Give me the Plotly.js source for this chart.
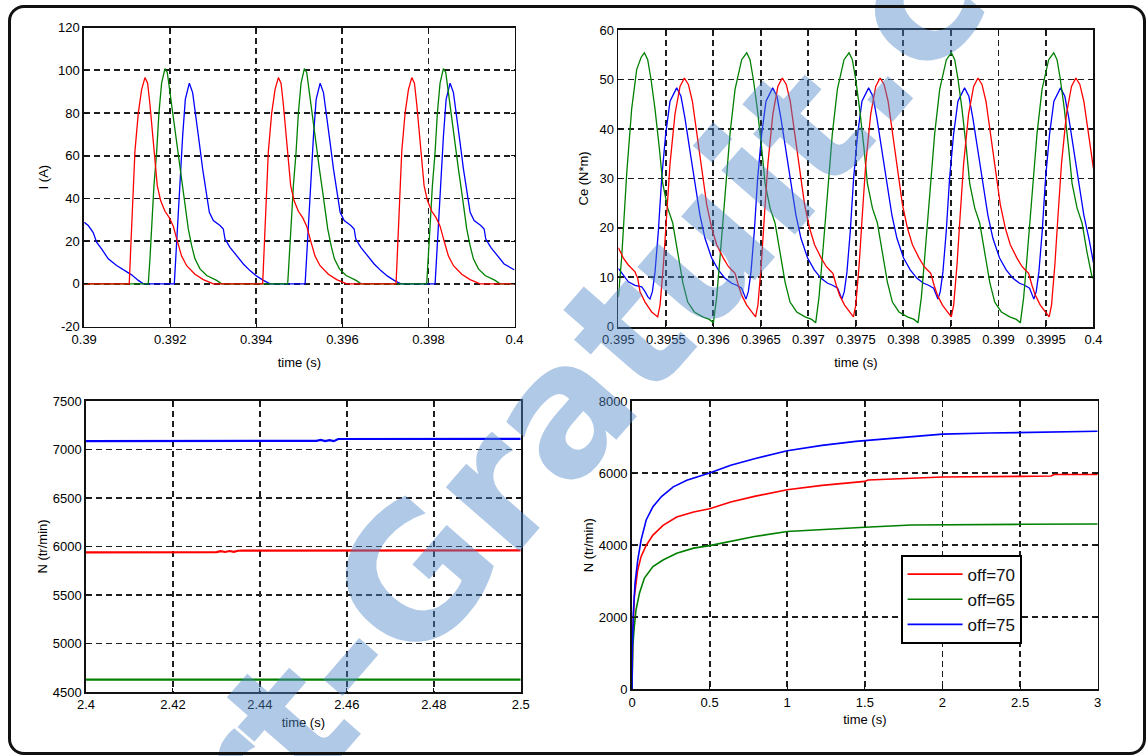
<!DOCTYPE html>
<html><head><meta charset="utf-8">
<script src="https://cdn.plot.ly/plotly-3.0.1.min.js"></script>
<style>
html,body{margin:0;padding:0;background:#fff;}
#wrap{position:relative;width:1147px;height:756px;overflow:hidden;}
#chart{position:absolute;left:0;top:0;width:1147px;height:756px;}
#frame{position:absolute;left:8px;top:5px;width:1138px;height:750px;border:3px solid #111;border-radius:16px;box-sizing:border-box;pointer-events:none;}
</style></head>
<body><div id="wrap"><div id="chart"></div><div id="frame"></div></div>
<script>
// ---------- Top-left: phase current I (A) vs time (s) ----------
const tlRedT = [0.39,0.391047,0.391078,0.391125,0.391179,0.391257,0.391334,0.391412,0.391474,0.391528,0.391590,0.391644,0.391698,0.391776,0.391877,0.391977,0.392070,0.392164,0.392264,0.392381,0.392574,0.392768,0.393001,
0.394147,0.394178,0.394225,0.394279,0.394357,0.394434,0.394512,0.394574,0.394628,0.394690,0.394744,0.394798,0.394876,0.394977,0.395077,0.395170,0.395264,0.395364,0.395481,0.395674,0.395868,0.396101,
0.397247,0.397278,0.397325,0.397379,0.397457,0.397534,0.397612,0.397674,0.397728,0.397790,0.397844,0.397898,0.397976,0.398077,0.398177,0.398270,0.398364,0.398464,0.398581,0.398774,0.398968,0.399201,0.4];
const tlRedI = [0,0,15,40,62,80,91,96.6,94,84,70,57,46,39,34,31,27,20,13,8.5,4.5,2,0,
0,15,40,62,80,91,96.6,94,84,70,57,46,39,34,31,27,20,13,8.5,4.5,2,0,
0,15,40,62,80,91,96.6,94,84,70,57,46,39,34,31,27,20,13,8.5,4.5,2,0,0];
const tlGreenT = [0.39,0.391489,0.391528,0.391567,0.391621,0.391683,0.391737,0.391799,0.391877,0.391931,0.391993,0.392070,0.392148,0.392226,0.392303,0.392365,0.392419,0.392497,0.392574,0.392691,0.392846,0.393078,0.393195,
0.394729,0.394768,0.394807,0.394861,0.394923,0.394977,0.395039,0.395117,0.395171,0.395233,0.395310,0.395388,0.395466,0.395543,0.395605,0.395659,0.395737,0.395814,0.395931,0.396086,0.396318,0.396435,
0.397959,0.397998,0.398037,0.398091,0.398153,0.398207,0.398269,0.398347,0.398401,0.398463,0.398540,0.398618,0.398696,0.398773,0.398835,0.398889,0.398967,0.399044,0.399161,0.399316,0.399548,0.399665,0.4];
const tlGreenI = [0,0,11.7,27,46,61.5,80,94,100.8,99,89.6,77,64.6,53.7,42.8,33.5,25.7,17.9,11.7,7,3.9,1.6,0,
0,11.7,27,46,61.5,80,94,100.8,99,89.6,77,64.6,53.7,42.8,33.5,25.7,17.9,11.7,7,3.9,1.6,0,
0,11.7,27,46,61.5,80,94,100.8,99,89.6,77,64.6,53.7,42.8,33.5,25.7,17.9,11.7,7,3.9,1.6,0,0];
const tlBlueT = [0.39,0.390094,0.390210,0.390288,0.390404,0.390559,0.390753,0.390947,0.391102,0.391257,0.391373,
0.392094,0.392125,0.392164,0.392226,0.392288,0.392350,0.392443,0.392520,0.392598,0.392675,0.392753,0.392830,0.392908,0.393001,0.393156,0.393233,0.393272,0.393388,0.393543,0.393698,0.393853,0.394009,0.394163,0.394319,
0.395134,0.395165,0.395204,0.395266,0.395328,0.395390,0.395483,0.395560,0.395638,0.395715,0.395793,0.395870,0.395948,0.396041,0.396196,0.396273,0.396312,0.396428,0.396583,0.396738,0.396893,0.397049,0.397203,0.397359,
0.398154,0.398185,0.398224,0.398286,0.398348,0.398410,0.398503,0.398580,0.398658,0.398735,0.398813,0.398890,0.398968,0.399061,0.399216,0.399293,0.399332,0.399448,0.399603,0.399758,0.4];
const tlBlueI = [28.8,27.3,24,19.5,16.4,11.7,8.6,6.2,4.2,1.6,0,
0,11.7,27,50.6,69.3,86.4,94,89.6,78.7,66,53.7,42.8,33.5,29.6,27.3,25.7,21,17.1,13.2,9.3,6.2,3.6,1.6,0,
0,11.7,27,50.6,69.3,86.4,94,89.6,78.7,66,53.7,42.8,33.5,29.6,27.3,25.7,21,17.1,13.2,9.3,6.2,3.6,1.6,0,
0,11.7,27,50.6,69.3,86.4,94,89.6,78.7,66,53.7,42.8,33.5,29.6,27.3,25.7,21,17.1,13.2,9.3,6.5];
const tlTickX = [0.39,0.392,0.394,0.396,0.398,0.4];
const tlTickXText = ['0.39','0.392','0.394','0.396','0.398','0.4'];
const tlTickY = [-20,0,20,40,60,80,100,120];
const tlTickYText = ['-20','0','20','40','60','80','100','120'];

// ---------- Top-right: torque Ce (N*m) vs time (s) ----------
const trGreenT = [0.395,0.395035,0.395088,0.395140,0.395193,0.395240,0.395274,
0.395309,0.395344,0.395386,0.395432,0.395467,0.395520,0.395572,0.395625,0.395678,0.395730,0.395800,0.395888,0.395958,0.396000,
0.396035,0.396070,0.396123,0.396175,0.396228,0.396298,0.396351,
0.396386,0.396421,0.396463,0.396509,0.396544,0.396597,0.396649,0.396702,0.396755,0.396807,0.396877,0.396965,0.397035,0.397077,
0.397112,0.397147,0.397200,0.397252,0.397305,0.397375,0.397428,
0.397463,0.397498,0.397540,0.397586,0.397621,0.397674,0.397726,0.397779,0.397832,0.397884,0.397954,0.398042,0.398112,0.398154,
0.398189,0.398224,0.398277,0.398329,0.398382,0.398452,0.398505,
0.398540,0.398575,0.398617,0.398663,0.398698,0.398751,0.398803,0.398856,0.398909,0.398961,0.399031,0.399119,0.399189,0.399231,
0.399266,0.399301,0.399354,0.399406,0.399459,0.399529,0.399582,
0.399617,0.399652,0.399694,0.399740,0.399775,0.399828,0.399880,0.399933,0.399986,0.4];
const trGreenCe = [6,14,31,44,52,54.5,55.4,
54,50,44,36,29,24,21,15,9,5,3,2,1.5,0.8,
6,14,27,39,48,54,55.4,
54,50,44,36,29,24,21,15,9,5,3,2,1.5,0.8,
6,14,27,39,48,54,55.4,
54,50,44,36,29,24,21,15,9,5,3,2,1.5,0.8,
6,14,27,39,48,54,55.4,
54,50,44,36,29,24,21,15,9,5,3,2,1.5,0.8,
6,14,27,39,48,54,55.4,
54,50,44,36,29,24,21,15,10,9.8];
const trRedT = [0.395,0.395053,0.395105,0.395175,0.395204,0.395228,0.395281,0.395351,
0.395414,0.395439,0.395474,0.395509,0.395544,0.395596,0.395649,0.395695,0.395737,0.395779,0.395825,0.395877,0.395930,0.395982,0.396035,0.396105,0.396158,0.396193,0.396228,0.396263,0.396298,0.396351,0.396404,
0.396444,0.396469,0.396504,0.396539,0.396574,0.396626,0.396679,0.396725,0.396767,0.396809,0.396855,0.396907,0.396960,0.397012,0.397065,0.397135,0.397188,0.397223,0.397258,0.397293,0.397328,0.397381,0.397434,
0.397474,0.397499,0.397534,0.397569,0.397604,0.397656,0.397709,0.397755,0.397797,0.397839,0.397885,0.397937,0.397990,0.398042,0.398095,0.398165,0.398218,0.398253,0.398288,0.398323,0.398358,0.398411,0.398464,
0.398504,0.398529,0.398564,0.398599,0.398634,0.398686,0.398739,0.398785,0.398827,0.398869,0.398915,0.398967,0.399020,0.399072,0.399125,0.399195,0.399248,0.399283,0.399318,0.399353,0.399388,0.399441,0.399494,
0.399534,0.399559,0.399594,0.399629,0.399664,0.399716,0.399769,0.399815,0.399857,0.399899,0.399945,0.4];
const trRedCe = [16,13.9,12.5,11.1,9.8,7.1,5,3,
2,4.4,12.5,23,33,43,48.6,50.3,49,45.6,39,31.4,24.7,20,16.6,13.9,12.2,11.5,10.8,8.4,6.4,4.4,3,
2,4.4,12.5,23,33,43,48.6,50.3,49,45.6,39,31.4,24.7,20,16.6,13.9,12.2,11.5,10.8,8.4,6.4,4.4,3,
2,4.4,12.5,23,33,43,48.6,50.3,49,45.6,39,31.4,24.7,20,16.6,13.9,12.2,11.5,10.8,8.4,6.4,4.4,3,
2,4.4,12.5,23,33,43,48.6,50.3,49,45.6,39,31.4,24.7,20,16.6,13.9,12.2,11.5,10.8,8.4,6.4,4.4,3,
2,4.4,12.5,23,33,43,48.6,50.3,49,45.6,39,32];
const trBlueT = [0.395,0.395053,0.395105,0.395175,0.395246,0.395281,0.395309,
0.395333,0.395358,0.395386,0.395421,0.395456,0.395498,0.395544,0.395614,0.395659,0.395701,0.395754,0.395807,0.395859,0.395912,0.395982,0.396052,0.396123,0.396193,0.396245,0.396298,0.396326,
0.396343,0.396368,0.396396,0.396431,0.396466,0.396508,0.396554,0.396624,0.396669,0.396711,0.396764,0.396817,0.396869,0.396922,0.396992,0.397062,0.397133,0.397203,0.397255,0.397308,0.397336,
0.397353,0.397378,0.397406,0.397441,0.397476,0.397518,0.397564,0.397634,0.397679,0.397721,0.397774,0.397827,0.397879,0.397932,0.398002,0.398072,0.398143,0.398213,0.398265,0.398318,0.398346,
0.398363,0.398388,0.398416,0.398451,0.398486,0.398528,0.398574,0.398644,0.398689,0.398731,0.398784,0.398837,0.398889,0.398942,0.399012,0.399082,0.399153,0.399223,0.399275,0.399328,0.399356,
0.399373,0.399398,0.399426,0.399461,0.399496,0.399538,0.399584,0.399654,0.399699,0.399741,0.399794,0.399847,0.399899,0.399952,0.4];
const trBlueCe = [11.8,10.5,9.1,8.4,8.1,7.1,6.1,
5.6,7.1,11.1,19.3,30,38.9,45.6,48.3,46.6,42.2,35.5,28.7,22.6,17.9,13.9,11.5,9.8,8.8,8.4,7.8,6.4,
5.6,7.1,11.1,19.3,30,38.9,45.6,48.3,46.6,42.2,35.5,28.7,22.6,17.9,13.9,11.5,9.8,8.8,8.4,7.8,6.4,
5.6,7.1,11.1,19.3,30,38.9,45.6,48.3,46.6,42.2,35.5,28.7,22.6,17.9,13.9,11.5,9.8,8.8,8.4,7.8,6.4,
5.6,7.1,11.1,19.3,30,38.9,45.6,48.3,46.6,42.2,35.5,28.7,22.6,17.9,13.9,11.5,9.8,8.8,8.4,7.8,6.4,
5.6,7.1,11.1,19.3,30,38.9,45.6,48.3,46.6,42.2,35.5,28.7,22.6,17.9,13];
const trTickX = [0.395,0.3955,0.396,0.3965,0.397,0.3975,0.398,0.3985,0.399,0.3995,0.4];
const trTickXText = ['0.395','0.3955','0.396','0.3965','0.397','0.3975','0.398','0.3985','0.399','0.3995','0.4'];
const trTickY = [0,10,20,30,40,50,60];
const trTickYText = ['0','10','20','30','40','50','60'];

// ---------- Bottom-left: speed N (tr/min), steady state ----------
const blRedT = [2.4,2.430,2.431,2.432,2.433,2.434,2.435,2.436,2.5];
const blRedN = [5940,5941,5951,5943,5953,5945,5956,5958,5960];
const blGreenT = [2.4,2.5];
const blGreenN = [4628,4628];
const blBlueT = [2.4,2.453,2.454,2.455,2.456,2.457,2.458,2.5];
const blBlueN = [7087,7088,7098,7086,7097,7086,7108,7110];
const blTickX = [2.4,2.42,2.44,2.46,2.48,2.5];
const blTickXText = ['2.4','2.42','2.44','2.46','2.48','2.5'];
const blTickY = [4500,5000,5500,6000,6500,7000,7500];
const blTickYText = ['4500','5000','5500','6000','6500','7000','7500'];

// ---------- Bottom-right: speed N (tr/min), start-up ----------
const brRedT = [0,0.005,0.015,0.026,0.037,0.059,0.092,0.135,0.2,0.288,0.397,0.5,0.636,0.789,1.0,1.224,1.44,1.5,1.52,1.7,2.0,2.5,2.7,2.72,3.0];
const brRedN = [0,1500,2570,2940,3320,3690,4000,4280,4550,4780,4920,5010,5200,5355,5540,5660,5750,5770,5810,5840,5890,5910,5920,5960,5960];
const brGreenT = [0,0.005,0.015,0.026,0.048,0.08,0.135,0.2,0.288,0.397,0.5,0.636,0.789,1.0,1.224,1.44,1.5,1.8,2.0,2.5,3.0];
const brGreenN = [0,1200,1750,2210,2670,3090,3410,3590,3780,3920,3990,4100,4240,4380,4440,4490,4500,4560,4570,4580,4590];
const brBlueT = [0,0.002,0.0087,0.0196,0.037,0.0588,0.0915,0.135,0.19,0.266,0.353,0.5,0.636,0.789,1.0,1.224,1.442,1.7,2.0,2.3,2.5,2.72,3.0];
const brBlueN = [0,1100,2120,2950,3590,4150,4700,5070,5350,5620,5800,6000,6220,6400,6620,6770,6880,6980,7080,7110,7120,7150,7160];
const brTickX = [0,0.5,1,1.5,2,2.5,3];
const brTickXText = ['0','0.5','1','1.5','2','2.5','3'];
const brTickY = [0,2000,4000,6000,8000];
const brTickYText = ['0','2000','4000','6000','8000'];

const seriesNames = ['off=70','off=65','off=75'];
const seriesColors = ['#ff0000','#008000','#0000ff'];

// ---------- build ----------
const FONT = 'Liberation Sans, Arial, sans-serif';
function ln(x, y, xa, ya, idx, w, show){
  return {x:x, y:y, xaxis:xa, yaxis:ya, type:'scatter', mode:'lines',
    name:seriesNames[idx], legendgroup:'g'+idx, showlegend:!!show,
    line:{color:seriesColors[idx], width:w}, hoverinfo:'skip'};
}
const traces = [
  ln(tlBlueT, tlBlueI, 'x','y',2,1.3), ln(tlGreenT, tlGreenI,'x','y',1,1.3), ln(tlRedT, tlRedI,'x','y',0,1.3),
  ln(trBlueT, trBlueCe,'x2','y2',2,1.3), ln(trGreenT, trGreenCe,'x2','y2',1,1.3), ln(trRedT, trRedCe,'x2','y2',0,1.3),
  ln(blBlueT, blBlueN,'x3','y3',2,2.2), ln(blGreenT, blGreenN,'x3','y3',1,2.2), ln(blRedT, blRedN,'x3','y3',0,2.2),
  ln(brRedT, brRedN,'x4','y4',0,1.6,true), ln(brGreenT, brGreenN,'x4','y4',1,1.6,true), ln(brBlueT, brBlueN,'x4','y4',2,1.6,true)
];

function ax(extra){
  return Object.assign({
    showline:true, linecolor:'#111', linewidth:1.8, mirror:'ticks',
    ticks:'inside', ticklen:4, tickcolor:'#111', tickwidth:1,
    showgrid:true, gridcolor:'#1e1e1e', gridwidth:1.8, griddash:'6px,4px',
    zeroline:false, automargin:false, fixedrange:true, tickmode:'array',
    tickfont:{family:FONT, size:13, color:'#000'}
  }, extra);
}
function ttl(t, s){ return {text:t, font:{family:FONT, size:13, color:'#000'}, standoff:s}; }

const layout = {
  width:1147, height:756, margin:{l:0,r:0,t:0,b:0},
  paper_bgcolor:'#fff', plot_bgcolor:'#fff', hovermode:false,
  xaxis: ax({domain:[0.0734,0.4486], anchor:'y', range:[0.39,0.4], tickvals:tlTickX, ticktext:tlTickXText, title:ttl('time (s)',12)}),
  yaxis: ax({domain:[0.5681,0.9634], anchor:'x', range:[-20,120], tickvals:tlTickY, ticktext:tlTickYText, title:ttl('I (A)',6)}),
  xaxis2: ax({domain:[0.5391,0.9533], anchor:'y2', range:[0.395,0.4], tickvals:trTickX, ticktext:trTickXText, title:ttl('time (s)',12)}),
  yaxis2: ax({domain:[0.5677,0.9603], anchor:'x2', range:[0,60], tickvals:trTickY, ticktext:trTickYText, title:ttl('Ce (N*m)',8)}),
  xaxis3: ax({domain:[0.0750,0.4540], anchor:'y3', range:[2.4,2.5], tickvals:blTickX, ticktext:blTickXText, title:ttl('time (s)',6)}),
  yaxis3: ax({domain:[0.0847,0.4696], anchor:'x3', range:[4500,7500], tickvals:blTickY, ticktext:blTickYText, title:ttl('N (tr/min)',2)}),
  xaxis4: ax({domain:[0.5510,0.9570], anchor:'y4', range:[0,3], tickvals:brTickX, ticktext:brTickXText, title:ttl('time (s)',6)}),
  yaxis4: ax({domain:[0.0880,0.4696], anchor:'x4', range:[0,8000], tickvals:brTickY, ticktext:brTickYText, title:ttl('N (tr/min)',2)}),
  showlegend:true,
  legend:{x:0.7855, y:0.2659, xanchor:'left', yanchor:'top', bgcolor:'#fff', bordercolor:'#000', borderwidth:1.6,
    font:{family:FONT, size:17, color:'#111'}, tracegroupgap:1, traceorder:'normal', itemwidth:55},
  annotations:[{xref:'paper', yref:'paper', x:0.4098, y:0.3188, xanchor:'center', yanchor:'middle',
    text:'Rapport-Gratuit.com', showarrow:false, textangle:-49,
    font:{family:'DejaVu Sans, sans-serif', size:178, color:'rgba(80,135,200,0.45)', weight:'bold'}}]
};
Plotly.newPlot('chart', traces, layout, {staticPlot:true, displayModeBar:false});
</script></body></html>
